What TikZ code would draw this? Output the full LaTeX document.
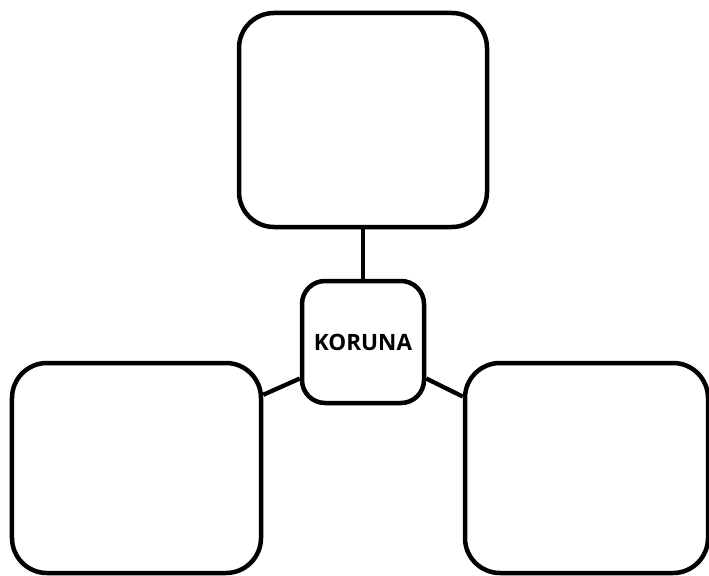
\documentclass[tikz,border=0pt]{standalone}
\usepackage{fontspec}
\newfontfamily\opensansfont{Open Sans}
\begin{document}
\begin{tikzpicture}[x=1bp,y=-1bp,
  bigbox/.style={draw=black,line width=4.5bp,rounded corners=35bp,fill=white,inner sep=0pt},
  smallbox/.style={draw=black,line width=4.5bp,rounded corners=23bp,fill=white,inner sep=0pt,
    minimum width=122bp,minimum height=122bp,font=\opensansfont\bfseries\fontsize{22.5bp}{27bp}\selectfont},
  link/.style={draw=black,line width=4.3bp}]
\useasboundingbox (0,0) rectangle (709,576);
\node[bigbox,minimum width=248bp,minimum height=214bp] (top) at (363,120) {};
\node[bigbox,minimum width=249bp,minimum height=210bp] (left) at (136.5,468) {};
\node[bigbox,minimum width=243bp,minimum height=210bp] (right) at (586.5,468) {};
\node[smallbox] (c) at (363,342) {KORUNA};
\draw[link] (top.south) -- (c.north);
\draw[link] (c.210) -- (left.30);
\draw[link] (c.330) -- (right.150);
\end{tikzpicture}
\end{document}
